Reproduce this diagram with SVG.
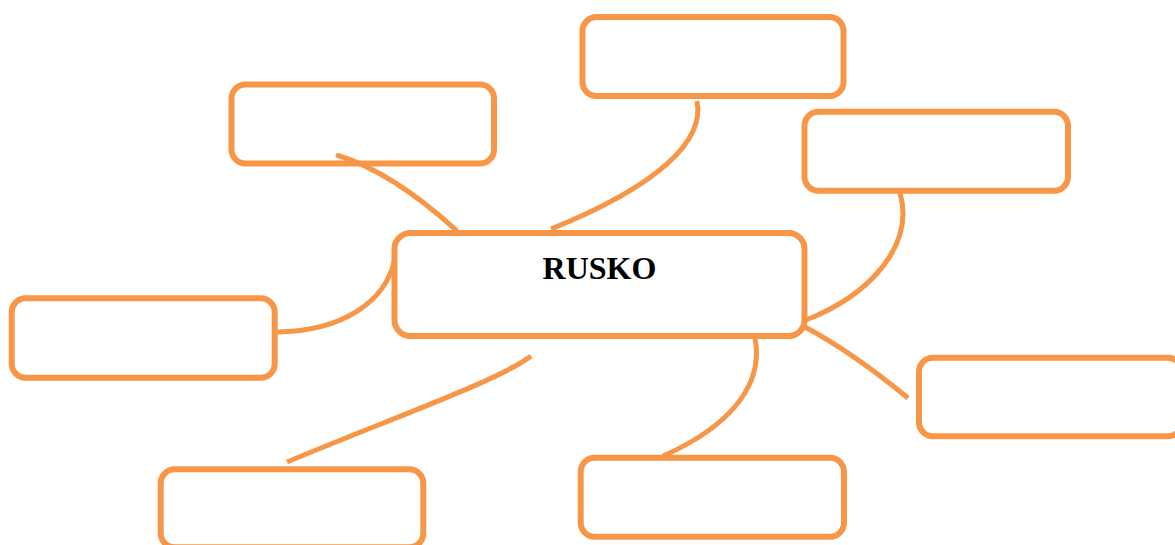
<svg xmlns="http://www.w3.org/2000/svg" width="1175" height="545" viewBox="0 0 1175 545">
  <style>
    .box { fill: #ffffff; stroke: #F79646; stroke-width: 6; }
    .link { fill: none; stroke: #F79646; stroke-width: 5; }
    .title { font-family: "Liberation Serif", "Times New Roman", serif; font-weight: bold; font-size: 32px; fill: #000000; }
  </style>
  <rect width="1175" height="545" fill="#ffffff"/>

  <g id="center">
    <rect class="box" x="394.5" y="233" width="410" height="103" rx="16"/>
    <text class="title" x="599.5" y="279" text-anchor="middle">RUSKO</text>
  </g>
  <g id="branch-top-left">
    <rect class="box" x="231.5" y="84.5" width="262.5" height="79" rx="14"/>
  </g>
  <g id="branch-top">
    <rect class="box" x="582.5" y="17" width="261" height="79" rx="14"/>
  </g>
  <g id="branch-top-right">
    <rect class="box" x="804.5" y="111.7" width="263.5" height="79" rx="14"/>
  </g>
  <g id="branch-right">
    <rect class="box" x="919" y="357.7" width="263" height="78.6" rx="14"/>
  </g>
  <g id="branch-bottom">
    <rect class="box" x="580.7" y="457.7" width="263.3" height="79" rx="14"/>
  </g>
  <g id="branch-bottom-left">
    <rect class="box" x="160.7" y="469.3" width="262.6" height="78" rx="14"/>
  </g>
  <g id="branch-left">
    <rect class="box" x="11.7" y="298.3" width="263" height="79.5" rx="14"/>
  </g>

  <!-- connectors between the central box and the branch boxes, drawn over the borders -->
  <g id="connectors">
    <path class="link" stroke-linecap="round" d="M338,155.5 Q392,172 456,230"/>
    <path class="link" d="M697,101 C705,140 660,185 551,229"/>
    <path class="link" d="M900,193 C915,245 870,295 806,320"/>
    <path class="link" d="M805,327 Q852,352 908,398"/>
    <path class="link" d="M755,338 C765,390 722,430 663,456"/>
    <path class="link" d="M287,462 C400,415 500,380 531,356"/>
    <path class="link" d="M277,332 C345,331 385,300 394,262"/>
  </g>
</svg>
